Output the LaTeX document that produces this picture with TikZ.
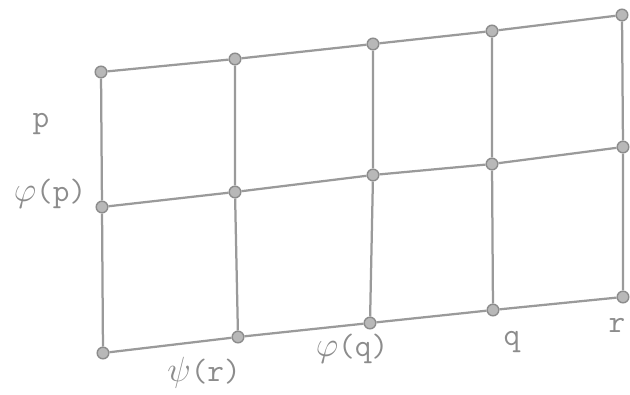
\documentclass[tikz,border=0pt]{standalone}
\usepackage{xcolor}
\usepackage{tikz}
\usetikzlibrary{positioning}
\definecolor{penGray}{HTML}{9A9A9A}
\definecolor{dotGray}{HTML}{B8B8B8}
\definecolor{inkGray}{HTML}{8C8C8C}

\begin{document}
\begin{tikzpicture}[x=0.025cm, y=-0.025cm,
  pt/.style={circle, draw=inkGray, fill=dotGray, line width=1pt, inner sep=0pt, minimum size=0.29cm},
  lbl/.style={text=inkGray, font=\fontsize{23}{27}\selectfont\ttfamily, inner sep=1pt},
  edge/.style={draw=penGray, line width=1.6pt}
]
\useasboundingbox (0,0) rectangle (630,394);
% top row
\node[pt] (a1) at (101,72) {};
\node[pt] (a2) at (235,59) {};
\node[pt] (a3) at (373,44) {};
\node[pt] (a4) at (492,31) {};
\node[pt] (a5) at (622,15) {};
% middle row
\node[pt] (b1) at (102,207) {};
\node[pt] (b2) at (235,192) {};
\node[pt] (b3) at (373,175) {};
\node[pt] (b4) at (492,164) {};
\node[pt] (b5) at (623,147) {};
% bottom row
\node[pt] (c1) at (103,353) {};
\node[pt] (c2) at (238,337) {};
\node[pt] (c3) at (370,323) {};
\node[pt] (c4) at (493,310) {};
\node[pt] (c5) at (623,297) {};
% labels
\node[lbl] (lp) at (41,124) {p};
\node[lbl] (lphip) at (50,194) {$\varphi$(p)};
\node[lbl] (lpsir) at (204,373) {$\psi$(r)};
\node[lbl] (lphiq) at (352,349) {$\varphi$(q)};
\node[lbl] (lq) at (512,342) {q};
\node[lbl] (lr) at (617,325) {r};
% grid lines
\begin{scope}[on background layer/.try]
\foreach \r in {a,b,c} {
  \draw[edge] (\r1) -- (\r2) -- (\r3) -- (\r4) -- (\r5);
}
\foreach \c in {1,...,5} {
  \draw[edge] (a\c) -- (b\c) -- (c\c);
}
\end{scope}
\end{tikzpicture}
\end{document}
